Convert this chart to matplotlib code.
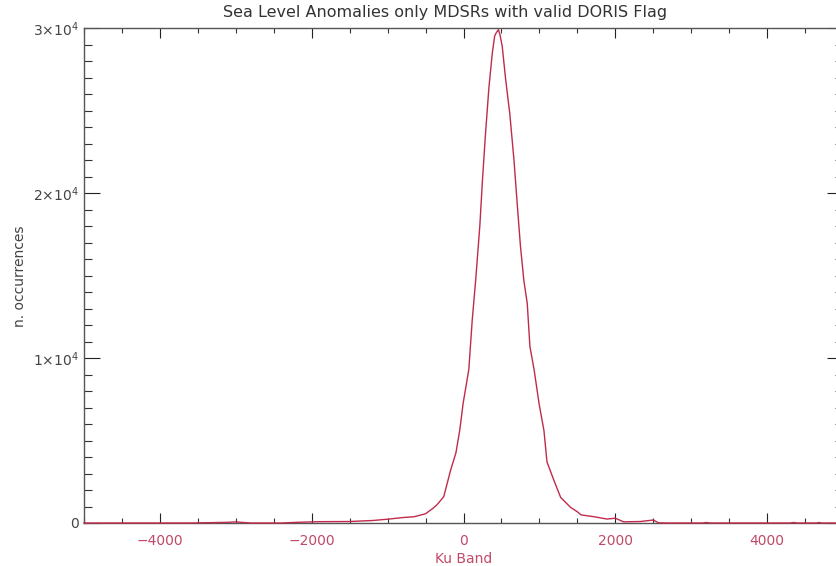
import matplotlib
matplotlib.use('Agg')
import matplotlib.pyplot as plt
from matplotlib.ticker import MultipleLocator, FixedLocator

# histogram of Ku band sea level anomalies
ku_band = [-5000, -3600, -3100, -3000, -2900, -2800, -2400, -2200, -1900, -1500,
           -1200, -1000, -800, -650, -500, -400, -350, -260, -170, -100,
           -50, -5, 70, 115, 160, 215, 250, 290, 335, 380,
           410, 430, 460, 480, 510, 555, 610, 665, 710, 750,
           795, 840, 875, 930, 995, 1060, 1100, 1190, 1280, 1410,
           1500, 1550, 1720, 1890, 2000, 2110, 2330, 2500, 2570, 2700,
           3150, 3200, 3250, 4300, 4350, 4400, 4650, 4680, 4720, 5000]
occurrences = [0, 0, 40, 70, 30, 0, 0, 40, 80, 90,
               150, 230, 330, 380, 560, 900, 1100, 1600, 3200, 4250,
               5600, 7250, 9300, 12300, 14700, 18000, 20800, 23600, 26400, 28500,
               29500, 29700, 29900, 29600, 28900, 26900, 24800, 22000, 19200, 16800,
               14700, 13300, 10700, 9300, 7250, 5600, 3700, 2600, 1550, 950,
               680, 490, 380, 240, 290, 70, 90, 180, 10, 0,
               0, 30, 0, 0, 30, 0, 0, 30, 0, 0]

x_ticks = [-4000, -2000, 0, 2000, 4000]
y_ticks = [0, 10000, 20000, 30000]
y_labels = ['0', r'$1{\times}10^{4}$', r'$2{\times}10^{4}$', r'$3{\times}10^{4}$']

title = 'Sea Level Anomalies only MDSRs with valid DORIS Flag'

line_col = '#c02a4c'
label_col = '#c04a68'
axis_col = '#555555'

plt.rcParams['mathtext.default'] = 'regular'
plt.rcParams['font.family'] = 'DejaVu Sans'

fig = plt.figure(figsize=(8.36, 5.66), dpi=100)
ax = fig.add_axes([84 / 836, 43 / 566, 759 / 836, 495 / 566])

ax.plot(ku_band, occurrences, color=line_col, linewidth=1.0, zorder=3, clip_on=False)

ax.set_xlim(-5000, 5000)
ax.set_ylim(0, 30000)

ax.xaxis.set_major_locator(FixedLocator(x_ticks))
ax.xaxis.set_minor_locator(MultipleLocator(500))
ax.yaxis.set_major_locator(FixedLocator(y_ticks))
ax.yaxis.set_minor_locator(MultipleLocator(1000))
ax.set_yticklabels(y_labels)

ax.tick_params(axis='x', which='major', direction='in', length=7.2, width=0.8,
               top=True, color='#222222', labelcolor=label_col, labelsize=10, pad=8)
ax.tick_params(axis='x', which='minor', direction='in', length=3.6, width=0.8,
               top=True, color='#333333')
ax.tick_params(axis='y', which='major', direction='in', length=11.5, width=0.8,
               right=True, color='#222222', labelcolor='#444444', labelsize=10, pad=4)
ax.tick_params(axis='y', which='minor', direction='in', length=5.8, width=0.8,
               right=True, color='#333333')

for s in ax.spines.values():
    s.set_color(axis_col)
    s.set_linewidth(1.0)

ax.set_xlabel('Ku Band', color=label_col, fontsize=10, labelpad=3)
fig.text(20 / 836, 1 - 276 / 566, 'n. occurrences', rotation=90, ha='center',
         va='center', color='#444444', fontsize=10)
fig.text(445 / 836, 1 - 12 / 566, title, ha='center', va='center',
         fontsize=11.5, color='#333333')

fig.savefig('out.png', dpi=100)
